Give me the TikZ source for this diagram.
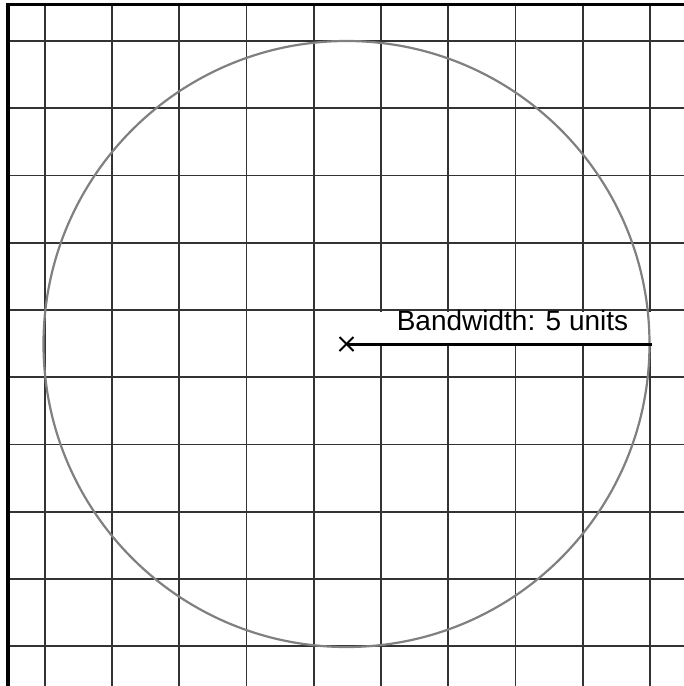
\documentclass[tikz,border=0pt]{standalone}
\usepackage{fontspec}
\setmainfont{Liberation Sans}
\usetikzlibrary{calc}
\tikzset{
  gridline/.style={draw=black!80, line width=1.8pt},
  frameline/.style={draw=black, line width=3.2pt},
  ringline/.style={draw=black!50, line width=2.2pt},
  radiusline/.style={draw=black, line width=3pt},
  crossline/.style={draw=black, line width=1.9pt},
  labeltext/.style={font=\fontsize{28}{33}\selectfont, inner sep=0pt, anchor=base}
}
\begin{document}
\begin{tikzpicture}[x=1pt,y=-1pt]
\useasboundingbox (0,0) rectangle (684,686);
\fill[white] (0,0) rectangle (684,686);
% grid
\foreach \k in {0,...,9}{
  \draw[gridline] ({44.7+67.26*\k},4.5) -- ({44.7+67.26*\k},686);
  \draw[gridline] (8,{41+67.26*\k}) -- (684,{41+67.26*\k});
}
% frame (top and left)
\draw[frameline] (684,4.5) -- (8,4.5) -- (8,686);
% label background
\fill[white] (372,311.8) rectangle (652,343);
% centre and circle
\coordinate (c) at (346.5,344);
\coordinate (e) at (652,344);
\draw[ringline] (c) circle (303);
% radius
\draw[radiusline] (c) -- (e);
% cross
\draw[crossline] ($(c)+(-7,-7)$) -- ($(c)+(7,7)$);
\draw[crossline] ($(c)+(-7,7)$) -- ($(c)+(7,-7)$);
% label
\node[labeltext] (lbl) at (512.5,330) {Bandwidth: 5 units};
\end{tikzpicture}
\end{document}
